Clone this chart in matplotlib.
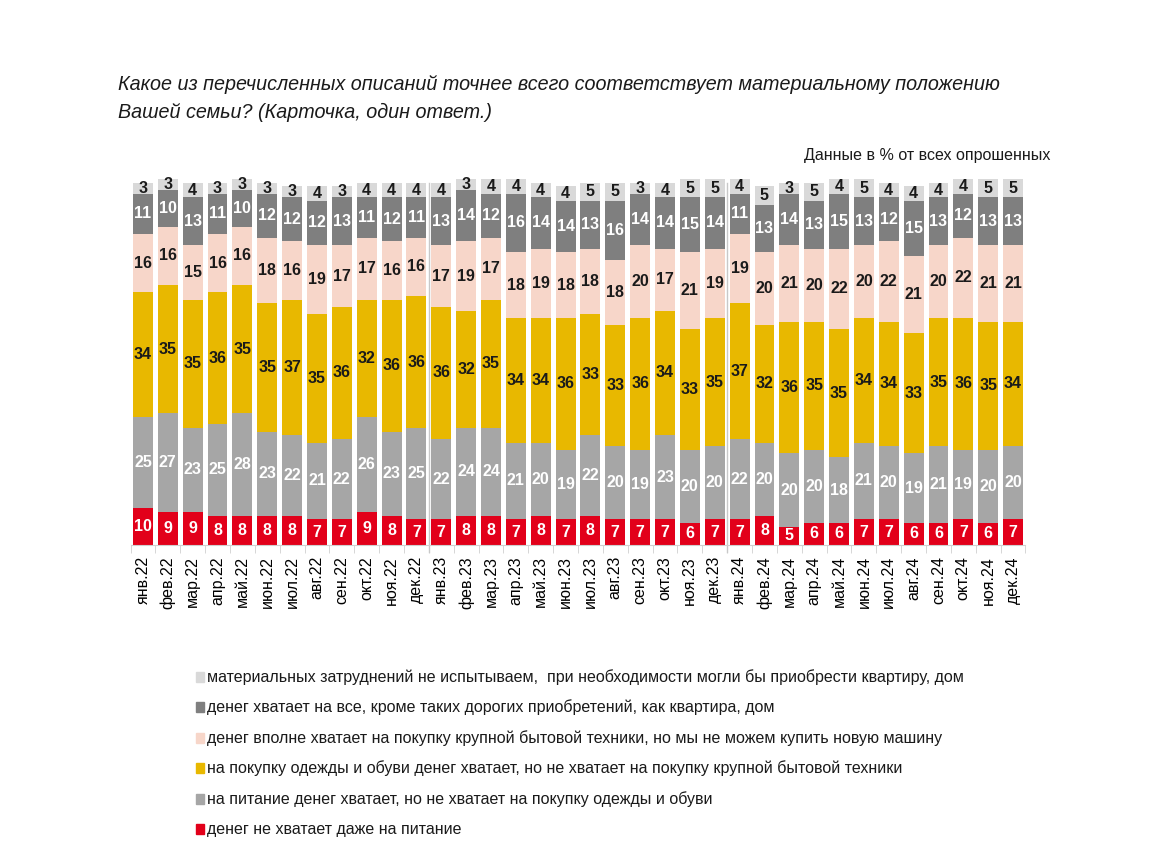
import matplotlib.pyplot as plt
import numpy as np

plt.rcParams['font.family'] = ['Liberation Sans Narrow', 'Liberation Sans', 'DejaVu Sans']

months = ['янв', 'фев', 'мар', 'апр', 'май', 'июн', 'июл', 'авг', 'сен', 'окт', 'ноя', 'дек']
labels = [m + '.' + y for y in ['22', '23', '24'] for m in months]

# bottom -> top
red = [10, 9, 9, 8, 8, 8, 8, 7, 7, 9, 8, 7,
       7, 8, 8, 7, 8, 7, 8, 7, 7, 7, 6, 7,
       7, 8, 5, 6, 6, 7, 7, 6, 6, 7, 6, 7]
grey = [25, 27, 23, 25, 28, 23, 22, 21, 22, 26, 23, 25,
        22, 24, 24, 21, 20, 19, 22, 20, 19, 23, 20, 20,
        22, 20, 20, 20, 18, 21, 20, 19, 21, 19, 20, 20]
yellow = [34, 35, 35, 36, 35, 35, 37, 35, 36, 32, 36, 36,
          36, 32, 35, 34, 34, 36, 33, 33, 36, 34, 33, 35,
          37, 32, 36, 35, 35, 34, 34, 33, 35, 36, 35, 34]
pink = [16, 16, 15, 16, 16, 18, 16, 19, 17, 17, 16, 16,
        17, 19, 17, 18, 19, 18, 18, 18, 20, 17, 21, 19,
        19, 20, 21, 20, 22, 20, 22, 21, 20, 22, 21, 21]
dark = [11, 10, 13, 11, 10, 12, 12, 12, 13, 11, 12, 11,
        13, 14, 12, 16, 14, 14, 13, 16, 14, 14, 15, 14,
        11, 13, 14, 13, 15, 13, 12, 15, 13, 12, 13, 13]
light = [3, 3, 4, 3, 3, 3, 3, 4, 3, 4, 4, 4,
         4, 3, 4, 4, 4, 4, 5, 5, 3, 4, 5, 5,
         4, 5, 3, 5, 4, 5, 4, 4, 4, 4, 5, 5]

series = [
    (red, '#e2001a', 'white', 'денег не хватает даже на питание'),
    (grey, '#a6a6a6', 'white', 'на питание денег хватает, но не хватает на покупку одежды и обуви'),
    (yellow, '#e8b800', '#1a1a1a', 'на покупку одежды и обуви денег хватает, но не хватает на покупку крупной бытовой техники'),
    (pink, '#f7d6c9', '#1a1a1a', 'денег вполне хватает на покупку крупной бытовой техники, но мы не можем купить новую машину'),
    (dark, '#7f7f7f', 'white', 'денег хватает на все, кроме таких дорогих приобретений, как квартира, дом'),
    (light, '#d9d9d9', '#1a1a1a', 'материальных затруднений не испытываем,  при необходимости могли бы приобрести квартиру, дом'),
]

fig = plt.figure(figsize=(11.76, 8.47), dpi=100)
ax = fig.add_axes([0.111, 0.3566, 0.761, 0.432])

x = np.arange(len(labels))
bottom = np.zeros(len(labels))
for vals, col, tcol, name in series:
    v = np.array(vals, dtype=float)
    ax.bar(x, v, 0.8, bottom=bottom, color=col, edgecolor='none')
    for xi, b, h in zip(x, bottom, v):
        ax.text(xi, b + h / 2, str(int(h)), ha='center', va='center',
                fontsize=11.5, color=tcol, fontweight='bold')
    bottom += v

ax.set_xlim(-0.5, len(labels) - 0.5)
ax.set_ylim(0, 100)
ax.set_yticks([])
for s in ['top', 'right', 'left']:
    ax.spines[s].set_visible(False)
ax.spines['bottom'].set_color('#d0d0d0')
ax.set_xticks(np.arange(-0.5, len(labels), 1), minor=True)
ax.tick_params(axis='x', which='minor', length=6, color='#d0d0d0')
ax.tick_params(axis='x', which='major', length=0, pad=8)
ax.set_xticks(x)
ax.set_xticklabels(labels, rotation=90, fontsize=11.5)

# year separators
for sep in [11.5, 23.5]:
    ax.axvline(sep, ymin=-0.02, ymax=0.99, color='#c8c8c8', lw=1, clip_on=False)

fig.text(0.1, 0.884, 'Какое из перечисленных описаний точнее всего соответствует материальному положению\nВашей семьи? (Карточка, один ответ.)',
         fontsize=14.2, style='italic', ha='left', va='center', linespacing=1.6, color='#1a1a1a')
fig.text(0.893, 0.817, 'Данные в % от всех опрошенных', fontsize=11.5, ha='right', va='center', color='#1a1a1a')

# legend
ly = 847 - 677
for vals, col, tcol, name in reversed(series):
    fig.patches.append(plt.Rectangle((196 / 1176, (ly - 5) / 847), 8 / 1176, 10 / 847,
                                     transform=fig.transFigure, color=col, figure=fig))
    fig.text(207 / 1176, ly / 847, name, fontsize=11.5, ha='left', va='center', color='#1a1a1a')
    ly -= 30.4

plt.savefig('out.png', dpi=100)
